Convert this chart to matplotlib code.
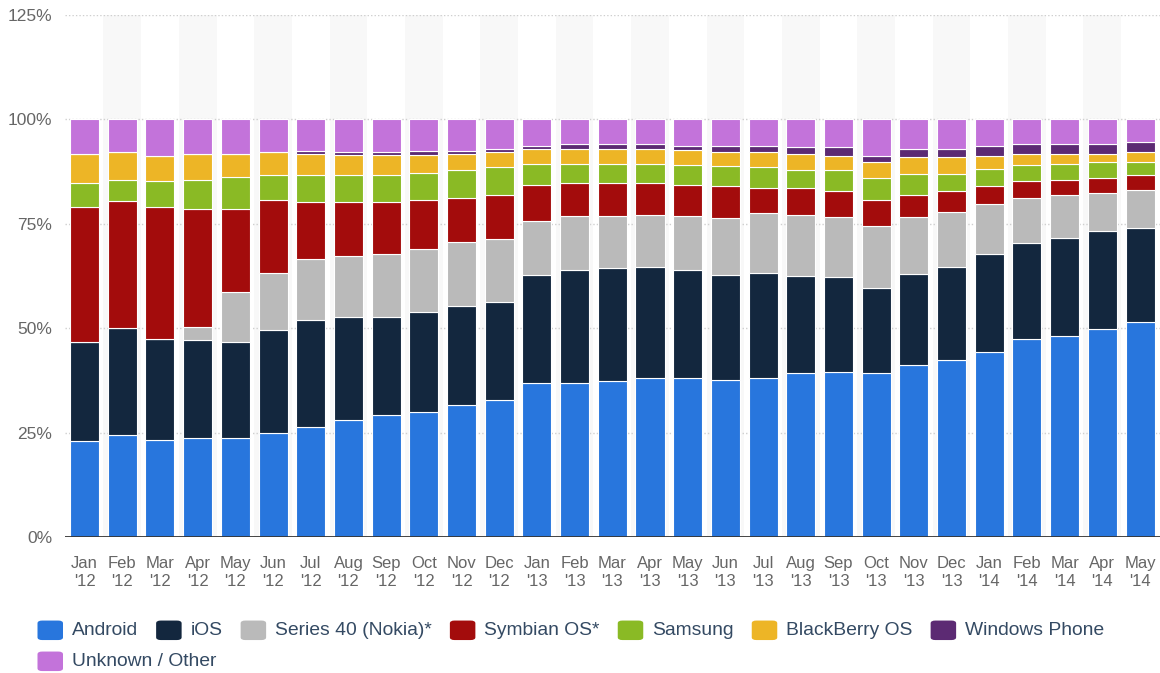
import matplotlib
matplotlib.use("Agg")
import matplotlib.pyplot as plt
from matplotlib.patches import FancyBboxPatch
import numpy as np

plt.rcParams['font.family'] = ['Liberation Sans', 'DejaVu Sans']

months = ["Jan\n'12", "Feb\n'12", "Mar\n'12", "Apr\n'12", "May\n'12", "Jun\n'12", "Jul\n'12",
          "Aug\n'12", "Sep\n'12", "Oct\n'12", "Nov\n'12", "Dec\n'12", "Jan\n'13", "Feb\n'13",
          "Mar\n'13", "Apr\n'13", "May\n'13", "Jun\n'13", "Jul\n'13", "Aug\n'13", "Sep\n'13",
          "Oct\n'13", "Nov\n'13", "Dec\n'13", "Jan\n'14", "Feb\n'14", "Mar\n'14", "Apr\n'14",
          "May\n'14"]

android = [22.9, 24.5, 23.3, 23.7, 23.7, 24.9, 26.4, 28.0, 29.1, 29.9, 31.5, 32.9, 36.9, 36.9, 37.3,
           38.0, 38.0, 37.6, 38.0, 39.2, 39.5, 39.2, 41.1, 42.5, 44.2, 47.4, 48.1, 49.8, 51.5]
ios = [23.9, 25.5, 24.1, 23.5, 22.9, 24.7, 25.6, 24.7, 23.6, 24.0, 23.9, 23.3, 25.8, 27.0, 27.0,
       26.7, 25.9, 25.1, 25.1, 23.4, 22.8, 20.4, 21.9, 22.1, 23.6, 23.0, 23.5, 23.4, 22.5]
series40 = [0, 0, 0, 3.1, 12.0, 13.6, 14.6, 14.7, 15.1, 15.1, 15.2, 15.2, 12.9, 12.9, 12.5,
            12.5, 12.9, 13.7, 14.5, 14.4, 14.3, 14.8, 13.6, 13.2, 12.0, 10.8, 10.4, 9.2, 9.2]
symbian = [32.2, 30.5, 31.6, 28.3, 20.0, 17.4, 13.6, 12.8, 12.4, 11.6, 10.6, 10.6, 8.8, 8.0, 8.0,
           7.6, 7.6, 7.7, 6.0, 6.6, 6.2, 6.4, 5.4, 5.0, 4.2, 4.0, 3.6, 3.6, 3.4]
samsung = [5.7, 5.1, 6.2, 7.0, 7.5, 6.2, 6.6, 6.6, 6.6, 6.6, 6.6, 6.6, 5.0, 4.6, 4.6,
           4.6, 4.6, 4.7, 4.9, 4.2, 5.0, 5.2, 5.0, 4.2, 4.2, 3.8, 3.8, 3.8, 3.2]
blackberry = [7.0, 6.5, 6.1, 6.1, 5.6, 5.3, 4.9, 4.6, 4.6, 4.2, 4.0, 3.5, 3.6, 3.6, 3.6,
              3.6, 3.6, 3.4, 3.7, 3.9, 3.5, 3.8, 3.9, 3.9, 3.1, 2.7, 2.3, 1.9, 2.3]
windows = [0, 0, 0, 0, 0, 0, 0.8, 0.8, 0.8, 1.1, 0.7, 0.8, 0.7, 1.1, 1.1,
           1.1, 1.1, 1.5, 1.4, 1.6, 2.0, 1.5, 2.0, 2.0, 2.4, 2.3, 2.3, 2.3, 2.4]
unknown = [8.3, 7.9, 8.7, 8.3, 8.3, 7.9, 7.5, 7.8, 7.8, 7.5, 7.5, 7.1, 6.3, 5.9, 5.9,
           5.9, 6.3, 6.3, 6.4, 6.7, 6.7, 8.7, 7.1, 7.1, 6.3, 6.0, 6.0, 6.0, 5.5]

series_names = ["Android", "iOS", "Series 40 (Nokia)*", "Symbian OS*", "Samsung",
                "BlackBerry OS", "Windows Phone", "Unknown / Other"]
series_values = [android, ios, series40, symbian, samsung, blackberry, windows, unknown]
colors = ["#2876dd", "#13273e", "#bababa", "#a30c0c", "#8aba25", "#edb526", "#5c2a73", "#c373da"]

W, H = 1160, 673
fig = plt.figure(figsize=(W / 100, H / 100), dpi=100)
ax = fig.add_axes([65 / W, 1 - 537 / H, (1160 - 65) / W, (537 - 15) / H])

n = len(months)
x = np.arange(n)
ax.set_xlim(-0.52, n - 1 + 0.53)
ax.set_ylim(0, 125)

# alternating background bands
for i in range(1, n, 2):
    ax.axvspan(i - 0.5, i + 0.5, color="#f8f8f8", zorder=0, lw=0)

# gridlines
for yv in [25, 50, 75, 100, 125]:
    ax.axhline(yv, color="#cfcfcf", lw=1, ls=(0, (1, 1.5)), zorder=1)

bottom = np.zeros(n)
for name, vals, c in zip(series_names, series_values, colors):
    v = np.array(vals, dtype=float)
    ax.bar(x, v, bottom=bottom, width=0.77, color=c, edgecolor="white", linewidth=0.8, zorder=3)
    bottom += v

ax.axhline(0, color="#333333", lw=2, zorder=4)

for s in ax.spines.values():
    s.set_visible(False)

ax.set_xticks(x)
ax.set_xticklabels(months, fontsize=12, color="#666666", linespacing=1.25)
ax.set_yticks([0, 25, 50, 75, 100, 125])
ax.set_yticklabels(["0%", "25%", "50%", "75%", "100%", "125%"], fontsize=12.5, color="#666666")
ax.tick_params(axis="both", length=0)
ax.tick_params(axis="x", pad=13.5)
ax.tick_params(axis="y", pad=9)

# legend (manual, left aligned, wrapping)
fig.canvas.draw()
renderer = fig.canvas.get_renderer()
sq_w, sq_h = 25.5, 19.5
row_y = [630.3, 661.3]
x0 = 37.5
xpos = x0
row = 0
for name, c in zip(series_names, colors):
    t = fig.text(0, 0, name, fontsize=13.9, color="#344a63", va="center", ha="left")
    tw = t.get_window_extent(renderer).width
    needed = sq_w + 9 + tw
    if xpos + needed > W - 5:
        row += 1
        xpos = x0
    yc = row_y[row]
    patch = FancyBboxPatch((xpos / W, (H - yc - sq_h / 2) / H), sq_w / W, sq_h / H,
                           boxstyle="round,pad=0,rounding_size=0.004",
                           transform=fig.transFigure, facecolor=c, edgecolor="none")
    fig.patches.append(patch)
    t.set_position(((xpos + sq_w + 9) / W, (H - yc) / H))
    xpos += needed + 18

fig.savefig("out.png", dpi=100)
